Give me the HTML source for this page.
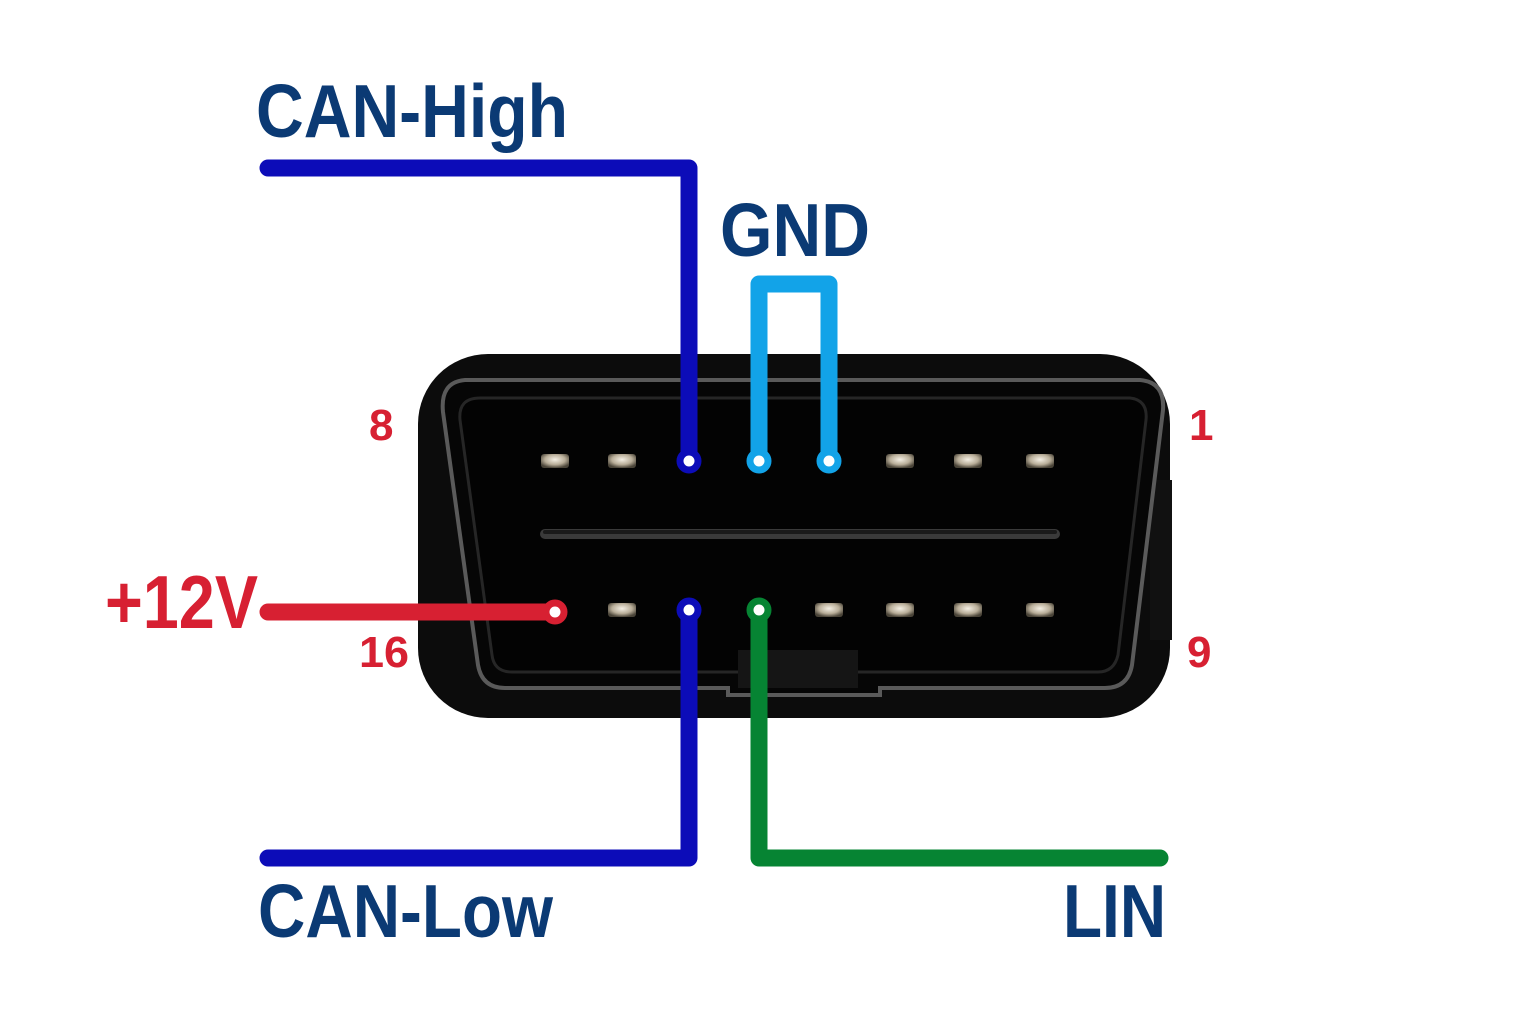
<!DOCTYPE html>
<html><head><meta charset="utf-8"><style>html,body{margin:0;padding:0;background:#fff}svg{display:block}</style></head>
<body>
<svg width="1536" height="1024" viewBox="0 0 1536 1024" xmlns="http://www.w3.org/2000/svg">
<defs>
<radialGradient id="pin" cx="0.5" cy="0.4" r="0.6"><stop offset="0" stop-color="#f4efe4"/><stop offset="0.6" stop-color="#b8ad98"/><stop offset="1" stop-color="#4a4438"/></radialGradient>
</defs>
<!-- connector body -->
<rect x="418" y="354" width="752" height="364" rx="70" fill="#0c0c0c"/>
<rect x="1150" y="480" width="22" height="160" fill="#111"/>
<path d="M465 380 L1140 380 Q1165 382 1163 410 L1132 665 Q1128 688 1105 688 L880 688 L880 695 L728 695 L728 688 L505 688 Q482 688 478 665 L443 412 Q440 382 465 380 Z" fill="#060606" stroke="#5a5a5a" stroke-width="4"/>
<path d="M480 398 L1130 398 Q1148 400 1146 420 L1118 655 Q1114 672 1098 672 L512 672 Q494 672 492 655 L460 420 Q458 398 480 398 Z" fill="#030303" stroke="#262626" stroke-width="3"/>
<rect x="738" y="650" width="120" height="38" fill="#151515"/>
<line x1="545" y1="534" x2="1055" y2="534" stroke="#3a3a3a" stroke-width="10" stroke-linecap="round"/>
<line x1="545" y1="532" x2="1055" y2="532" stroke="#1a1a1a" stroke-width="4" stroke-linecap="round"/>
<g fill="url(#pin)">
<rect x="541" y="454" width="28" height="14" rx="3"/><rect x="608" y="454" width="28" height="14" rx="3"/>
<rect x="886" y="454" width="28" height="14" rx="3"/><rect x="954" y="454" width="28" height="14" rx="3"/><rect x="1026" y="454" width="28" height="14" rx="3"/>
<rect x="608" y="603" width="28" height="14" rx="3"/><rect x="815" y="603" width="28" height="14" rx="3"/>
<rect x="886" y="603" width="28" height="14" rx="3"/><rect x="954" y="603" width="28" height="14" rx="3"/><rect x="1026" y="603" width="28" height="14" rx="3"/>
</g>
<!-- wires -->
<g fill="none" stroke-width="17" stroke-linecap="round" stroke-linejoin="round">
<path d="M268 168 L689 168 L689 461" stroke="#0c0cb8"/>
<path d="M759 461 L759 284 L829 284 L829 461" stroke="#12a3e8" stroke-linecap="butt"/>
<path d="M268 612 L555 612" stroke="#d72032"/>
<path d="M689 610 L689 858 L268 858" stroke="#0c0cb8"/>
<path d="M759 610 L759 858 L1160 858" stroke="#068433"/>
</g>
<g stroke-width="7" fill="#fff">
<circle cx="689" cy="461" r="9" stroke="#0c0cb8"/>
<circle cx="759" cy="461" r="9" stroke="#12a3e8"/>
<circle cx="829" cy="461" r="9" stroke="#12a3e8"/>
<circle cx="555" cy="612" r="9" stroke="#d72032"/>
<circle cx="689" cy="610" r="9" stroke="#0c0cb8"/>
<circle cx="759" cy="610" r="9" stroke="#068433"/>
</g>
<!-- labels -->
<g font-family="'Liberation Sans', sans-serif" font-weight="bold" fill="#0b3a74" font-size="75">
<text x="256" y="137" textLength="312" lengthAdjust="spacingAndGlyphs">CAN-High</text>
<text x="720" y="256" textLength="150" lengthAdjust="spacingAndGlyphs">GND</text>
<text x="258" y="937" textLength="295" lengthAdjust="spacingAndGlyphs">CAN-Low</text>
<text x="1063" y="937" textLength="103" lengthAdjust="spacingAndGlyphs">LIN</text>
</g>
<g font-family="'Liberation Sans', sans-serif" font-weight="bold" fill="#d72032">
<text x="105" y="628" font-size="75" textLength="153" lengthAdjust="spacingAndGlyphs">+12V</text>
<text x="369" y="440" font-size="44">8</text>
<text x="1189" y="440" font-size="44">1</text>
<text x="359" y="667" font-size="44" textLength="50" lengthAdjust="spacingAndGlyphs">16</text>
<text x="1187" y="667" font-size="44">9</text>
</g>
</svg>
</body></html>
